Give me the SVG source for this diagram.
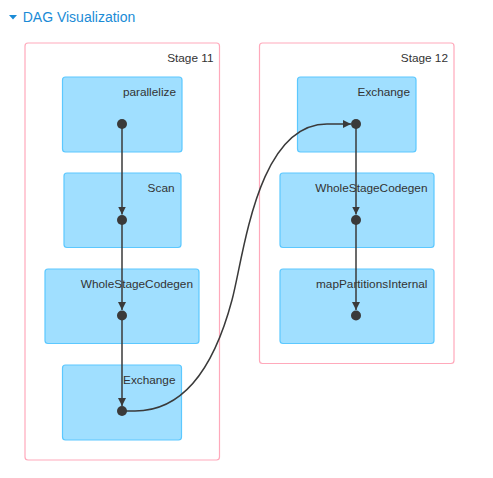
<svg xmlns="http://www.w3.org/2000/svg" width="493" height="478" viewBox="0 0 493 478">
<defs>
<style>
.stage rect{fill:#FFFFFF;stroke:#FFA9BB;stroke-width:1.2}
.node rect{fill:#A0DFFF;stroke:#5CC8FF;stroke-width:1.2}
text{font-family:"Liberation Sans",Arial,sans-serif;font-size:11.8px;fill:#333333;text-anchor:end}
.dot{fill:#3A3A3A}
.edge{fill:none;stroke:#3A3A3A;stroke-width:1.5}
</style>
<marker id="arr" markerUnits="userSpaceOnUse" markerWidth="8" markerHeight="8" refX="8" refY="4" orient="auto" viewBox="0 0 8 8">
<path d="M0,0 L8,4 L0,8 z" fill="#3A3A3A"/>
</marker>
</defs>
<rect width="493" height="478" fill="#FFFFFF"/>
<g id="title">
<path d="M9,15 L17,15 L13,19.5 z" fill="#1A8BD6"/>
<text x="22.7" y="22" style="font-size:14px;fill:#1A8BD6;text-anchor:start">DAG Visualization</text>
</g>
<g id="stage11" class="stage">
<rect x="25" y="43" width="194.5" height="417" rx="3"/>
<text x="213.5" y="62">Stage 11</text>
</g>
<g id="stage12" class="stage">
<rect x="259.5" y="43" width="194.5" height="320.5" rx="3"/>
<text x="448" y="62">Stage 12</text>
</g>
<g id="n-parallelize" class="node">
<rect x="62.5" y="77" width="119.5" height="75" rx="3"/>
<text x="176" y="96">parallelize</text>
</g>
<g id="n-scan" class="node">
<rect x="64" y="173" width="117" height="74.5" rx="3"/>
<text x="174.5" y="192">Scan</text>
</g>
<g id="n-wsc11" class="node">
<rect x="45" y="269" width="154" height="74.5" rx="3"/>
<text x="193" y="288">WholeStageCodegen</text>
</g>
<g id="n-exchange11" class="node">
<rect x="62.5" y="365" width="119" height="75" rx="3"/>
<text x="175.5" y="384">Exchange</text>
</g>
<g id="n-exchange12" class="node">
<rect x="297.5" y="77" width="118.5" height="75" rx="3"/>
<text x="410" y="96">Exchange</text>
</g>
<g id="n-wsc12" class="node">
<rect x="280" y="173" width="154" height="74.5" rx="3"/>
<text x="427.5" y="192">WholeStageCodegen</text>
</g>
<g id="n-mappartitions" class="node">
<rect x="280" y="269" width="154" height="74.5" rx="3"/>
<text x="427.5" y="288">mapPartitionsInternal</text>
</g>
<g id="edges">
<path class="edge" d="M122,124 L122,214.5" marker-end="url(#arr)"/>
<path class="edge" d="M122,220 L122,310" marker-end="url(#arr)"/>
<path class="edge" d="M122,315 L122,406" marker-end="url(#arr)"/>
<path class="edge" d="M356,124 L356,214.5" marker-end="url(#arr)"/>
<path class="edge" d="M356,220 L356,310" marker-end="url(#arr)"/>
<path class="edge" d="M122,411 L135,411 C195,411 220,345 232,300 C244,255 257,124 327,124 L351,124" marker-end="url(#arr)"/>
</g>
<g id="dots">
<circle class="dot" cx="122" cy="124" r="5"/>
<circle class="dot" cx="122" cy="220" r="5"/>
<circle class="dot" cx="122" cy="315.5" r="5"/>
<circle class="dot" cx="122" cy="411" r="5"/>
<circle class="dot" cx="356" cy="124" r="5"/>
<circle class="dot" cx="356" cy="220" r="5"/>
<circle class="dot" cx="356" cy="315.5" r="5"/>
</g>
</svg>
